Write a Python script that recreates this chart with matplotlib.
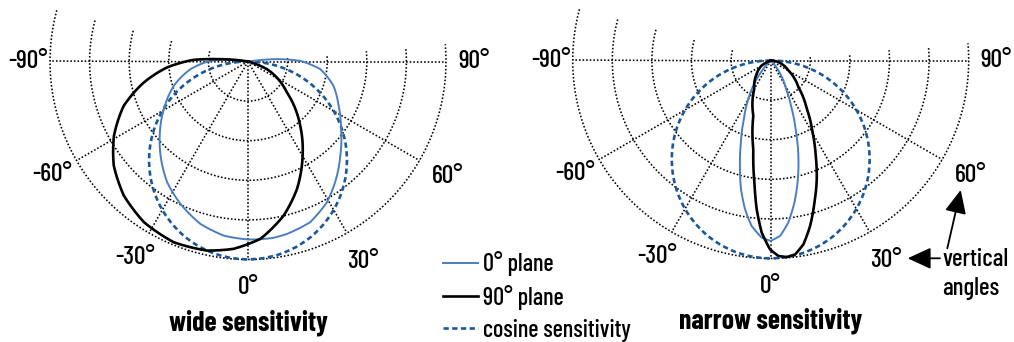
import numpy as np
import matplotlib
matplotlib.use("Agg")
import matplotlib.pyplot as plt

plt.rcParams['font.family'] = ['Barlow Condensed', 'Archivo Narrow', 'DejaVu Sans']

# ---------------- data (vertical angle in degrees, relative sensitivity) -------------
cos_theta = [-90, -85, -80, -75, -70, -65, -60, -55, -50, -45, -40, -35, -30, -25, -20, -15, -10, -5, 0,
             5, 10, 15, 20, 25, 30, 35, 40, 45, 50, 55, 60, 65, 70, 75, 80, 85, 90]
cos_r = [0.0, 0.087, 0.174, 0.259, 0.342, 0.423, 0.5, 0.574, 0.643, 0.707, 0.766, 0.819, 0.866, 0.906,
         0.94, 0.966, 0.985, 0.996, 1.0, 0.996, 0.985, 0.966, 0.94, 0.906, 0.866, 0.819, 0.766, 0.707,
         0.643, 0.574, 0.5, 0.423, 0.342, 0.259, 0.174, 0.087, 0.0]

wide_p0_theta = [-98, -96.6, -91, -82.4, -71.9, -60.5, -50, -41.7, -33.8, -25.4, -16.3, -7.9, 0, 8,
                 12.7, 21.2, 29.3, 35.8, 44.4, 54, 64, 74.1, 84, 90.7, 95.2, 98]
wide_p0_r = [0.0, 0.073, 0.19, 0.293, 0.394, 0.488, 0.582, 0.66, 0.734, 0.796, 0.855, 0.888, 0.899, 0.9,
             0.893, 0.87, 0.815, 0.752, 0.666, 0.58, 0.509, 0.449, 0.367, 0.264, 0.13, 0.0]

wide_p90_theta = [-99, -94.8, -91.8, -85.8, -78.6, -70.4, -61, -52.2, -42.8, -32.9, -22.3, -12.2, -4.4,
                  4, 13, 21, 30.1, 39.1, 51.5, 68, 75]
wide_p90_r = [0.0, 0.14, 0.274, 0.41, 0.537, 0.666, 0.774, 0.858, 0.923, 0.967, 0.987, 0.977, 0.949,
              0.898, 0.799, 0.69, 0.55, 0.418, 0.251, 0.103, 0.0]

narrow_p0_theta = [-45, -35.9, -30.2, -24.6, -20, -16.3, -13, -9.8, -6.6, -2.9, 0, 3.1, 6.2, 9.5, 12.9,
                   16.2, 19.5, 23.5, 28.4, 36.6, 45]
narrow_p0_r = [0.0, 0.135, 0.225, 0.325, 0.44, 0.554, 0.667, 0.762, 0.841, 0.896, 0.911, 0.887, 0.823,
               0.727, 0.615, 0.501, 0.385, 0.267, 0.163, 0.074, 0.0]

narrow_p90_theta = [-70, -60.9, -46.4, -30, -17.5, -11.1, -7.6, -5.4, -3, -0.2, 2.25, 4.7, 7.2, 10.1,
                    13.4, 17.1, 21.2, 25.3, 30.2, 36.7, 46, 60.5, 77.7, 90]
narrow_p90_r = [0.0, 0.052, 0.098, 0.166, 0.292, 0.456, 0.622, 0.754, 0.87, 0.954, 0.988, 0.996, 0.987,
                0.943, 0.859, 0.751, 0.643, 0.532, 0.42, 0.305, 0.195, 0.103, 0.04, 0.0]

tick_angles = [-90, -60, -30, 0, 30, 60, 90]
tick_labels = ['-90°', '-60°', '-30°', '0°', '30°', '60°', '90°']
ring_values = [0.2, 0.4, 0.6, 0.8, 1.0]
legend_labels = ['0° plane', '90° plane', 'cosine sensitivity']
titles = ['wide sensitivity', 'narrow sensitivity']

# ---------------- styling ----------------
C_P0 = '#4a7ebf'
C_P90 = '#000000'
C_COS = '#1a5899'
W, H = 1014, 342
R = 198  # pixel radius of the outer ring
label_r = [1.11, 1.14, 1.145, 1.14, 1.165, 1.165, 1.14]
FS = 18.5

fig = plt.figure(figsize=(W / 100, H / 100), dpi=100)


def smooth(line):
    # draw segments as polar arcs/spirals instead of straight chords
    line.get_path()._interpolation_steps = 40
    return line


def make_axes(cx, cy):
    ax = fig.add_axes([(cx - R) / W, (H - cy - R) / H, 2 * R / W, 2 * R / H], projection='polar')
    ax.set_theta_zero_location('S')
    ax.set_theta_direction(1)
    ax.set_ylim(0, 1)
    ax.grid(False)
    ax.set_xticks([])
    ax.set_yticks([])
    ax.spines['polar'].set_visible(False)
    ax.patch.set_visible(False)
    grid_kw = dict(color='black', lw=1.15, linestyle=(0, (1.0, 1.25)), zorder=1, clip_on=False)
    for rv in ring_values:
        t = np.deg2rad(np.linspace(-105, 95, 400))
        ax.plot(t, np.full_like(t, rv), **grid_kw)
    for a in [-60, -30, 0, 30, 60]:
        ax.plot([np.deg2rad(a)] * 2, [0, 1], **grid_kw)
    ax.plot([np.deg2rad(-90)] * 2, [0, 1], **grid_kw)
    ax.plot([np.deg2rad(90)] * 2, [0, 1], **grid_kw)
    for a, s, rr in zip(tick_angles, tick_labels, label_r):
        ax.text(np.deg2rad(a), rr, s, ha='center', va='center', fontsize=FS, fontweight='medium',
                clip_on=False)
    return ax


def draw(ax, p0t, p0r, p90t, p90r, title, title_r):
    lc, = ax.plot(np.deg2rad(cos_theta), cos_r, color=C_COS, lw=1.9, linestyle=(0, (2.0, 1.3)),
                  zorder=3, clip_on=False)
    l0, = ax.plot(np.deg2rad(p0t), p0r, color=C_P0, lw=1.4, zorder=4, solid_joinstyle='round',
                  clip_on=False)
    l90, = ax.plot(np.deg2rad(p90t), p90r, color=C_P90, lw=1.9, zorder=5, solid_joinstyle='round',
                   clip_on=False)
    for ln in (lc, l0, l90):
        smooth(ln)
    ax.text(0, title_r, title, ha='center', va='center', fontsize=20, fontweight='bold', clip_on=False)
    return l0, l90, lc


ax1 = make_axes(248, 61.5)
h = draw(ax1, wide_p0_theta, wide_p0_r, wide_p90_theta, wide_p90_r, titles[0], 1.32)
ax2 = make_axes(770.7, 60.5)
draw(ax2, narrow_p0_theta, narrow_p0_r, narrow_p90_theta, narrow_p90_r, titles[1], 1.316)

fig.legend(h, legend_labels, loc='center left', bbox_to_anchor=(443 / W, (H - 296.5) / H),
           frameon=False, prop=dict(size=17.5, weight='medium'), handlelength=1.45, handletextpad=0.2,
           labelspacing=0.36, borderpad=0, borderaxespad=0)

fig.text(942 / W, (H - 274) / H, 'vertical\nangles', ha='left', va='center', fontsize=18,
         fontweight='medium', linespacing=1.3)
akw = dict(arrowstyle='-|>,head_length=0.65,head_width=0.3', mutation_scale=22, lw=1.3,
           color='black', shrinkA=0, shrinkB=0)
ax2.annotate('', xy=(907.7, H - 258.3), xytext=(940, H - 258.3), xycoords='figure pixels',
             textcoords='figure pixels', arrowprops=akw)
ax2.annotate('', xy=(960.7, H - 190), xytext=(947.3, H - 248.3), xycoords='figure pixels',
             textcoords='figure pixels', arrowprops=akw)

fig.savefig('out.png', dpi=100)
